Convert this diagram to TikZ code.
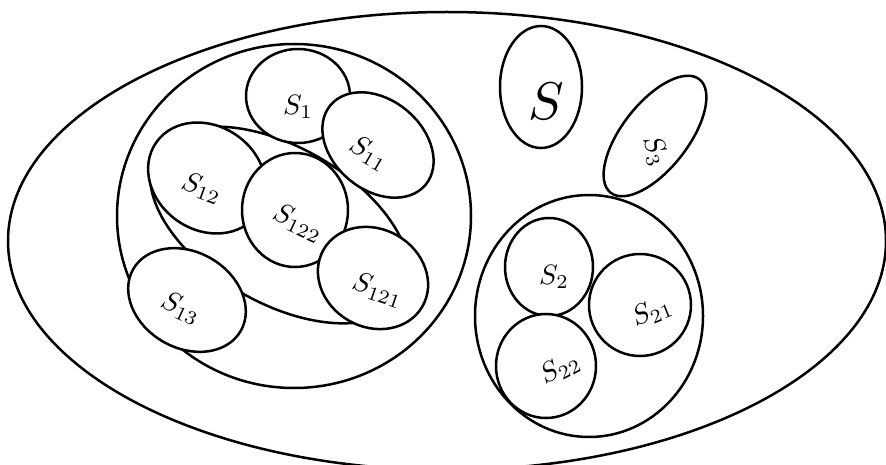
\documentclass[tikz,border=0pt]{standalone}

\begin{document}
\begin{tikzpicture}[x=1pt,y=1pt,
    set/.style={line width=2.5pt},
    subset/.style={set,fill=white},
    lab/.style={scale=2.8},
    biglab/.style={scale=5.3}]
  \useasboundingbox (0,0) rectangle (886,-465);
  % whole set
  \draw[set] (447,-241) ellipse[x radius=439,y radius=229];
  % left family
  \draw[set] (294,-216) ellipse[x radius=177,y radius=172];
  \draw[subset,rotate around={-30:(280,-225)}] (280,-225) ellipse[x radius=143,y radius=78];
  \draw[subset] (298,-96) ellipse[x radius=52,y radius=47];
  \draw[subset,rotate around={-40:(378,-145)}] (378,-145) ellipse[x radius=62,y radius=45];
  \draw[subset,rotate around={-35:(207,-178)}] (207,-178) ellipse[x radius=62,y radius=52];
  \draw[subset] (295,-210) ellipse[x radius=53,y radius=57];
  \draw[subset,rotate around={-30:(373,-278)}] (373,-278) ellipse[x radius=57,y radius=49];
  \draw[subset,rotate around={-30:(187,-300)}] (187,-300) ellipse[x radius=62,y radius=48];
  % right family
  \draw[subset] (541,-87) ellipse[x radius=41,y radius=61];
  \draw[subset,rotate around={52:(655,-136)}] (655,-136) ellipse[x radius=72,y radius=33];
  \draw[set] (589,-316) ellipse[x radius=114,y radius=121];
  \draw[subset] (549,-267) ellipse[x radius=44,y radius=49];
  \draw[subset] (640,-305) ellipse[x radius=51,y radius=51];
  \draw[subset] (546,-366) ellipse[x radius=50,y radius=52];
  % labels
  \node[biglab] (s) at (546,-101) {$S$};
  \node[lab] (s1) at (298,-107) {$S_1$};
  \node[lab,rotate=-30] (s11) at (369,-153) {$S_{11}$};
  \node[lab,rotate=-20] (s12) at (202,-188) {$S_{12}$};
  \node[lab,rotate=-25] (s122) at (298,-223) {$S_{122}$};
  \node[lab,rotate=-19] (s121) at (378,-290) {$S_{121}$};
  \node[lab,rotate=-25] (s13) at (181,-308) {$S_{13}$};
  \node[lab,rotate=-70] (s3) at (655,-151) {$S_3$};
  \node[lab] (s2) at (554,-277) {$S_2$};
  \node[lab,rotate=22] (s21) at (652,-312) {$S_{21}$};
  \node[lab,rotate=27] (s22) at (560,-369) {$S_{22}$};
\end{tikzpicture}
\end{document}
